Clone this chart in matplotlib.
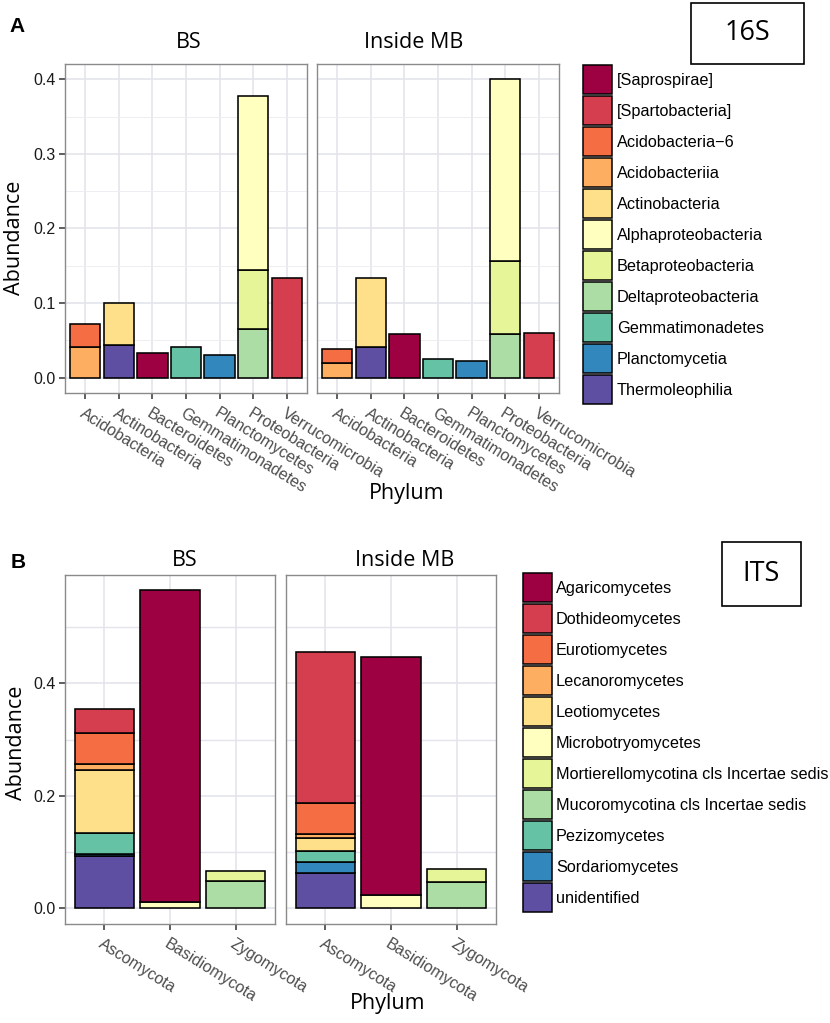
import numpy as np
import matplotlib.pyplot as plt
from matplotlib.patches import Patch, Rectangle
from matplotlib.ticker import MultipleLocator

# Spectral palette (11 levels), same order as the legends
spectral = ['#9E0142', '#D53E4F', '#F46D43', '#FDAE61', '#FEE08B', '#FFFFBF',
            '#E6F598', '#ABDDA4', '#66C2A5', '#3288BD', '#5E4FA2']

# ---- 16S data ----
bac_phyla = ['Acidobacteria', 'Actinobacteria', 'Bacteroidetes', 'Gemmatimonadetes',
             'Planctomycetes', 'Proteobacteria', 'Verrucomicrobia']
bac_classes = ['[Saprospirae]', '[Spartobacteria]', 'Acidobacteria\u22126', 'Acidobacteriia',
               'Actinobacteria', 'Alphaproteobacteria', 'Betaproteobacteria',
               'Deltaproteobacteria', 'Gemmatimonadetes', 'Planctomycetia', 'Thermoleophilia']

bs16_phylum = ['Acidobacteria', 'Acidobacteria', 'Actinobacteria', 'Actinobacteria',
               'Bacteroidetes', 'Gemmatimonadetes', 'Planctomycetes',
               'Proteobacteria', 'Proteobacteria', 'Proteobacteria', 'Verrucomicrobia']
bs16_class = ['Acidobacteriia', 'Acidobacteria\u22126', 'Thermoleophilia', 'Actinobacteria',
              '[Saprospirae]', 'Gemmatimonadetes', 'Planctomycetia',
              'Deltaproteobacteria', 'Betaproteobacteria', 'Alphaproteobacteria', '[Spartobacteria]']
bs16_value = [0.0415, 0.031, 0.044, 0.056, 0.033, 0.041, 0.030, 0.065, 0.079, 0.233, 0.134]

mb16_phylum = bs16_phylum
mb16_class = bs16_class
mb16_value = [0.020, 0.018, 0.041, 0.093, 0.0585, 0.0245, 0.0225, 0.0585, 0.098, 0.244, 0.060]

# ---- ITS data ----
fun_phyla = ['Ascomycota', 'Basidiomycota', 'Zygomycota']
fun_classes = ['Agaricomycetes', 'Dothideomycetes', 'Eurotiomycetes', 'Lecanoromycetes',
               'Leotiomycetes', 'Microbotryomycetes', 'Mortierellomycotina cls Incertae sedis',
               'Mucoromycotina cls Incertae sedis', 'Pezizomycetes', 'Sordariomycetes',
               'unidentified']

its_phylum = ['Ascomycota'] * 7 + ['Basidiomycota'] * 2 + ['Zygomycota'] * 2
its_class = ['unidentified', 'Sordariomycetes', 'Pezizomycetes', 'Leotiomycetes',
             'Lecanoromycetes', 'Eurotiomycetes', 'Dothideomycetes',
             'Microbotryomycetes', 'Agaricomycetes',
             'Mucoromycotina cls Incertae sedis', 'Mortierellomycotina cls Incertae sedis']
bsits_value = [0.093, 0.004, 0.037, 0.111, 0.012, 0.055, 0.042, 0.012, 0.553, 0.0485, 0.018]
mbits_value = [0.062, 0.021, 0.018, 0.024, 0.007, 0.055, 0.268, 0.024, 0.422, 0.047, 0.023]

W, H = 830, 1023
fig = plt.figure(figsize=(W / 100, H / 100), dpi=100)
fig.patch.set_facecolor('white')

title_font = 'Open Sans'
body_font = 'Liberation Sans'


def px_axes(l, t, r, b):
    return fig.add_axes([l / W, 1 - b / H, (r - l) / W, (b - t) / H])


def draw_panel(ax, phyla, classes, seg_phylum, seg_class, seg_value, ylim, major, minor, show_y):
    x = np.arange(len(phyla))
    bottoms = np.zeros(len(phyla))
    # ggplot stacks the first level on top, so draw from the last level up
    for cls in reversed(classes):
        vals = np.zeros(len(phyla))
        for p, c, v in zip(seg_phylum, seg_class, seg_value):
            if c == cls:
                vals[phyla.index(p)] += v
        m = vals > 0
        if m.any():
            ax.bar(x[m], vals[m], bottom=bottoms[m], width=0.9,
                   color=spectral[classes.index(cls)], edgecolor='black',
                   linewidth=1.15, zorder=3)
        bottoms += vals

    ax.set_xlim(-0.6, len(phyla) - 0.4)
    ax.set_ylim(*ylim)
    ax.yaxis.set_major_locator(MultipleLocator(major))
    ax.yaxis.set_minor_locator(MultipleLocator(minor))
    ax.set_xticks(x)
    ax.set_xticklabels(phyla, rotation=-32, ha='left', va='top',
                       rotation_mode='anchor', fontsize=11.6,
                       family=body_font, color='#4D4D4D')
    ax.grid(True, which='major', color='#E4E4EC', linewidth=1.2, zorder=0)
    ax.grid(True, which='minor', axis='y', color='#EEEEF2', linewidth=0.7, zorder=0)
    ax.set_axisbelow(True)
    for s in ax.spines.values():
        s.set_color('#8A8A8A')
        s.set_linewidth(1.0)
    ax.tick_params(axis='x', length=4, width=1.1, color='#333333', pad=5)
    ax.tick_params(axis='y', which='major', length=4, width=1.1, color='#333333',
                   labelsize=11.5, labelcolor='#1A1A1A', pad=3)
    ax.tick_params(axis='y', which='minor', length=0)
    if show_y:
        ax.set_yticklabels([f'{t:.1f}' for t in ax.get_yticks()], family=body_font)
    else:
        ax.tick_params(axis='y', which='major', length=0, labelleft=False)


def legend_at(classes, x, y, size, pad):
    fs = size * 100 / 72.0
    hh = (29.0 / fs - 0.245) / 0.65
    handles = [Patch(facecolor=spectral[i], edgecolor='black', linewidth=1.1)
               for i in range(len(classes))]
    fig.legend(handles, classes, loc='upper left', bbox_to_anchor=(x / W, 1 - y / H),
               frameon=False, borderpad=0, borderaxespad=0, handlelength=29.0 / fs,
               handleheight=hh, labelspacing=2.0 / fs, handletextpad=pad,
               prop={'family': body_font, 'size': size})


def label_box(text, l, t, r, b):
    fig.add_artist(Rectangle((l / W, 1 - b / H), (r - l) / W, (b - t) / H,
                             transform=fig.transFigure, facecolor='white',
                             edgecolor='black', linewidth=1.2))
    fig.text((l + r) / 2 / W, 1 - (t + b) / 2 / H, text, ha='center', va='center',
             fontsize=19.5, family=title_font)


# ---- Panel A (16S) ----
axA1 = px_axes(65, 64, 307, 393)
axA2 = px_axes(317, 64, 559, 393)
draw_panel(axA1, bac_phyla, bac_classes, bs16_phylum, bs16_class, bs16_value,
           (-0.0205, 0.4205), 0.1, 0.05, True)
draw_panel(axA2, bac_phyla, bac_classes, mb16_phylum, mb16_class, mb16_value,
           (-0.0205, 0.4205), 0.1, 0.05, False)
fig.text(17 / W, 1 - 26 / H, 'A', fontsize=15, fontweight='bold', family=body_font,
         ha='center', va='center')
fig.text(189 / W, 1 - 43 / H, 'BS', fontsize=15.5, family=title_font, ha='center', va='center')
fig.text(414 / W, 1 - 43 / H, 'Inside MB', fontsize=15.5, family=title_font, ha='center', va='center')
fig.text(15 / W, 1 - 238 / H, 'Abundance', fontsize=15.5, family=title_font, rotation=90,
         ha='center', va='center')
fig.text(407 / W, 1 - 493 / H, 'Phylum', fontsize=15.5, family=title_font, ha='center', va='center')
legend_at(bac_classes, 583, 65, 11.7, 0.3)
label_box('16S', 691, 3, 804, 64)

# ---- Panel B (ITS) ----
axB1 = px_axes(65, 575, 275, 924)
axB2 = px_axes(286, 575, 496, 924)
draw_panel(axB1, fun_phyla, fun_classes, its_phylum, its_class, bsits_value,
           (-0.028, 0.5925), 0.2, 0.1, True)
draw_panel(axB2, fun_phyla, fun_classes, its_phylum, its_class, mbits_value,
           (-0.028, 0.5925), 0.2, 0.1, False)
axB1.grid(True, which='minor', axis='y', color='#E4E4EC', linewidth=1.0, zorder=0)
axB2.grid(True, which='minor', axis='y', color='#E4E4EC', linewidth=1.0, zorder=0)
fig.text(18 / W, 1 - 562 / H, 'B', fontsize=15, fontweight='bold', family=body_font,
         ha='center', va='center')
fig.text(185 / W, 1 - 561 / H, 'BS', fontsize=15.5, family=title_font, ha='center', va='center')
fig.text(405 / W, 1 - 561 / H, 'Inside MB', fontsize=15.5, family=title_font, ha='center', va='center')
fig.text(16 / W, 1 - 743 / H, 'Abundance', fontsize=15.5, family=title_font, rotation=90,
         ha='center', va='center')
fig.text(388 / W, 1 - 1004 / H, 'Phylum', fontsize=15.5, family=title_font, ha='center', va='center')
legend_at(fun_classes, 523, 573, 11.7, 0.25)
label_box('ITS', 722, 542, 801, 606)

fig.savefig('out.png', dpi=100, facecolor='white')
